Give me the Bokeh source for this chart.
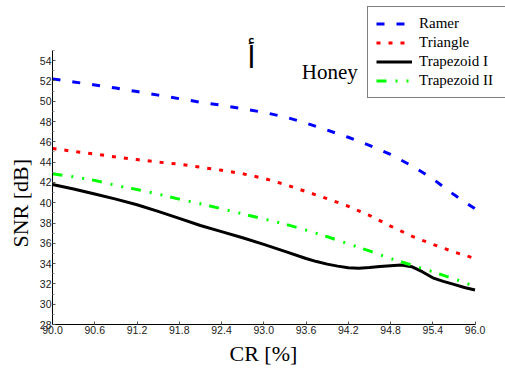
from bokeh.plotting import figure
from bokeh.models import Legend, LegendItem, Label, FixedTicker, Title
from bokeh.embed import file_html
from bokeh.resources import INLINE

# ---- data ----
cr = [90.0, 90.3, 90.6, 90.9, 91.2, 91.5, 91.8, 92.1, 92.4, 92.7, 93.0,
      93.3, 93.6, 93.9, 94.2, 94.5, 94.8, 95.1, 95.4, 95.7, 96.0]
ramer = [52.2, 51.9, 51.6, 51.3, 50.95, 50.6, 50.25, 49.9, 49.6, 49.25, 48.9,
         48.45, 47.85, 47.15, 46.45, 45.65, 44.75, 43.65, 42.35, 40.8, 39.4]
triangle = [45.35, 45.05, 44.8, 44.5, 44.25, 44.0, 43.8, 43.5, 43.2, 42.85, 42.4,
            41.8, 41.1, 40.4, 39.65, 38.75, 37.7, 36.7, 35.9, 35.15, 34.5]
trapezoid2 = [42.85, 42.55, 42.2, 41.7, 41.3, 40.85, 40.35, 39.9, 39.4, 38.9, 38.4,
              37.9, 37.3, 36.65, 35.95, 35.25, 34.5, 33.85, 33.2, 32.5, 31.75]
# Trapezoid I is read more densely around its bump
cr_t1 = [90.0, 90.3, 90.6, 90.9, 91.2, 91.5, 91.8, 92.1, 92.4, 92.7, 93.0,
         93.3, 93.6, 93.75, 93.9, 94.05, 94.2, 94.35, 94.5, 94.65, 94.8,
         94.95, 95.1, 95.25, 95.4, 95.55, 95.7, 95.85, 96.0]
trapezoid1 = [41.8, 41.35, 40.85, 40.35, 39.8, 39.15, 38.45, 37.75, 37.15, 36.55, 35.9,
              35.2, 34.5, 34.2, 33.95, 33.75, 33.6, 33.55, 33.62, 33.72, 33.8,
              33.85, 33.7, 33.2, 32.6, 32.25, 31.95, 31.65, 31.4]
series_names = ["Ramer", "Triangle", "Trapezoid I", "Trapezoid II"]
x_ticks = [90.0, 90.6, 91.2, 91.8, 92.4, 93.0, 93.6, 94.2, 94.8, 95.4, 96.0]
x_tick_labels = ["90.0", "90.6", "91.2", "91.8", "92.4", "93.0",
                 "93.6", "94.2", "94.8", "95.4", "96.0"]
y_ticks = [28, 30, 32, 34, 36, 38, 40, 42, 44, 46, 48, 50, 52, 54]
x_title = "CR [%]"
y_title = "SNR [dB]"
chart_title = "Honey"
panel_letter = "أ"

SERIF = "Liberation Serif"
SANS = "Liberation Sans"

X0, X1 = 90.0, 96.0
Y0, Y1 = 28, 55
PX_PER_X = 70.42
PX_PER_Y = 10.15
LEFT, BOTTOM, W, H = 52, 47, 505, 371
frame_w = W - LEFT
frame_h = H - BOTTOM

p = figure(width=W, height=H, output_backend="svg", toolbar_location=None,
           x_range=(X0, X0 + frame_w / PX_PER_X),
           y_range=(Y0, Y0 + frame_h / PX_PER_Y),
           min_border_left=LEFT, min_border_right=0, min_border_top=0,
           min_border_bottom=BOTTOM)
p.outline_line_color = None
p.xgrid.grid_line_color = None
p.ygrid.grid_line_color = None
p.background_fill_color = "white"
p.border_fill_color = "white"

r1 = p.line(cr, ramer, line_color="#0000FF", line_width=3, line_dash="8 12")
r2 = p.line(cr, triangle, line_color="#FF0000", line_width=3, line_dash="4 8")
r3 = p.line(cr_t1, trapezoid1, line_color="black", line_width=3,
            line_join="round")
r4 = p.line(cr, trapezoid2, line_color="#00FF00", line_width=3,
            line_dash="10 9 2 9 2 8")

# axes
p.xaxis.ticker = FixedTicker(ticks=x_ticks)
p.xaxis.major_label_overrides = {t: l for t, l in zip(x_ticks, x_tick_labels)}
p.xaxis.bounds = (X0, X1)
p.yaxis.ticker = FixedTicker(ticks=y_ticks,
                             minor_ticks=[t + 1 for t in y_ticks])
p.yaxis.bounds = (Y0, Y1)
for ax in (p.xaxis[0], p.yaxis[0]):
    ax.axis_line_color = "black"
    ax.axis_line_width = 1
    ax.major_tick_in = 3
    ax.major_tick_out = 0
    ax.minor_tick_in = 2
    ax.minor_tick_out = 0
    ax.major_tick_line_color = "#555555"
    ax.minor_tick_line_color = "#999999"
    ax.major_label_text_font = SANS
    ax.major_label_text_font_size = "10.5px"
    ax.major_label_text_color = "#222222"
p.xaxis.major_label_standoff = 1
p.yaxis.major_label_standoff = 1

# axis titles (placed as side titles for exact positioning)
p.add_layout(Title(text=y_title, align="left", offset=77, standoff=8,
                   text_font=SERIF, text_font_size="22px",
                   text_font_style="normal", text_color="black"), "left")
p.add_layout(Title(text=x_title, align="left", offset=177, standoff=4,
                   text_font=SERIF, text_font_size="22px",
                   text_font_style="normal", text_color="black"), "below")

# title texts
p.add_layout(Label(x=93.54, y=52.9, text=chart_title, text_font=SERIF,
                   text_font_size="21px", text_align="left",
                   text_baseline="alphabetic", text_color="black"))
p.add_layout(Label(x=92.826, y=54.3, text=panel_letter, text_font="DejaVu Sans",
                   text_font_size="30px", text_align="center",
                   text_baseline="alphabetic", text_color="black"))

legend = Legend(items=[LegendItem(label=series_names[0], renderers=[r1]),
                       LegendItem(label=series_names[1], renderers=[r2]),
                       LegendItem(label=series_names[2], renderers=[r3]),
                       LegendItem(label=series_names[3], renderers=[r4])],
                location=(315, 226))
legend.border_line_color = "black"
legend.border_line_width = 1
legend.background_fill_color = "white"
legend.background_fill_alpha = 1
legend.label_text_font = SERIF
legend.label_text_font_size = "15px"
legend.label_text_color = "black"
legend.padding = 8
legend.spacing = 2
legend.label_height = 17
legend.glyph_height = 17
legend.glyph_width = 36
legend.label_standoff = 7
legend.label_width = 100
legend.margin = 0
p.add_layout(legend)

open("out.html", "w").write(file_html(p, INLINE))
